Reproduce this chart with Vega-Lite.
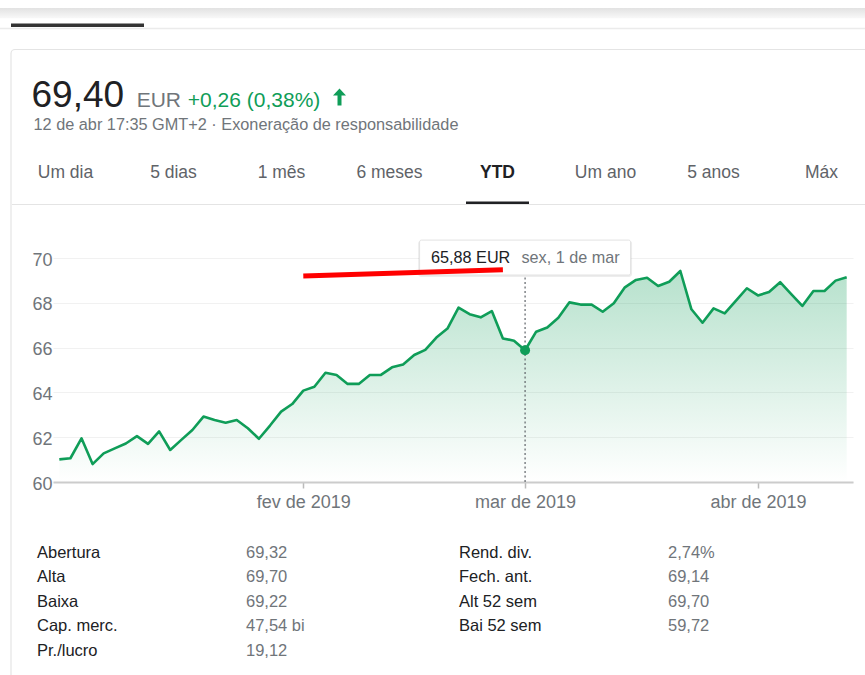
{
  "$schema": "https://vega.github.io/schema/vega-lite/v6.json",
  "width": 800,
  "height": 224,
  "autosize": {"type": "none"},
  "padding": {"left": 53, "top": 258, "right": 12, "bottom": 193},
  "background": "#ffffff",
  "config": {
    "font": "Liberation Sans",
    "view": {"stroke": null},
    "axis": {"labelFont": "Liberation Sans", "titleFont": "Liberation Sans"}
  },
  "datasets": {
    "cotacoes": [
      {"data": "2019-01-02", "preco": 61.01},
      {"data": "2019-01-03", "preco": 61.06},
      {"data": "2019-01-04", "preco": 61.95},
      {"data": "2019-01-07", "preco": 60.80},
      {"data": "2019-01-08", "preco": 61.28},
      {"data": "2019-01-09", "preco": 61.50},
      {"data": "2019-01-10", "preco": 61.72},
      {"data": "2019-01-11", "preco": 62.05},
      {"data": "2019-01-14", "preco": 61.70},
      {"data": "2019-01-15", "preco": 62.26},
      {"data": "2019-01-16", "preco": 61.43},
      {"data": "2019-01-17", "preco": 61.88},
      {"data": "2019-01-18", "preco": 62.32},
      {"data": "2019-01-21", "preco": 62.92},
      {"data": "2019-01-22", "preco": 62.77},
      {"data": "2019-01-23", "preco": 62.65},
      {"data": "2019-01-24", "preco": 62.77},
      {"data": "2019-01-25", "preco": 62.40},
      {"data": "2019-01-28", "preco": 61.93},
      {"data": "2019-01-29", "preco": 62.52},
      {"data": "2019-01-30", "preco": 63.14},
      {"data": "2019-01-31", "preco": 63.48},
      {"data": "2019-02-01", "preco": 64.08},
      {"data": "2019-02-04", "preco": 64.25},
      {"data": "2019-02-05", "preco": 64.88},
      {"data": "2019-02-06", "preco": 64.78},
      {"data": "2019-02-07", "preco": 64.38},
      {"data": "2019-02-08", "preco": 64.38},
      {"data": "2019-02-11", "preco": 64.78},
      {"data": "2019-02-12", "preco": 64.78},
      {"data": "2019-02-13", "preco": 65.12},
      {"data": "2019-02-14", "preco": 65.25},
      {"data": "2019-02-15", "preco": 65.67},
      {"data": "2019-02-18", "preco": 65.90},
      {"data": "2019-02-19", "preco": 66.45},
      {"data": "2019-02-20", "preco": 66.85},
      {"data": "2019-02-21", "preco": 67.78},
      {"data": "2019-02-22", "preco": 67.49},
      {"data": "2019-02-25", "preco": 67.35},
      {"data": "2019-02-26", "preco": 67.63},
      {"data": "2019-02-27", "preco": 66.41},
      {"data": "2019-02-28", "preco": 66.31},
      {"data": "2019-03-01", "preco": 65.88},
      {"data": "2019-03-04", "preco": 66.71},
      {"data": "2019-03-05", "preco": 66.90},
      {"data": "2019-03-06", "preco": 67.33},
      {"data": "2019-03-07", "preco": 68.02},
      {"data": "2019-03-08", "preco": 67.92},
      {"data": "2019-03-11", "preco": 67.92},
      {"data": "2019-03-12", "preco": 67.60},
      {"data": "2019-03-13", "preco": 67.98},
      {"data": "2019-03-14", "preco": 68.69},
      {"data": "2019-03-15", "preco": 69.02},
      {"data": "2019-03-18", "preco": 69.12},
      {"data": "2019-03-19", "preco": 68.75},
      {"data": "2019-03-20", "preco": 68.94},
      {"data": "2019-03-21", "preco": 69.42},
      {"data": "2019-03-22", "preco": 67.71},
      {"data": "2019-03-25", "preco": 67.11},
      {"data": "2019-03-26", "preco": 67.75},
      {"data": "2019-03-27", "preco": 67.53},
      {"data": "2019-03-28", "preco": 68.09},
      {"data": "2019-03-29", "preco": 68.65},
      {"data": "2019-04-01", "preco": 68.33},
      {"data": "2019-04-02", "preco": 68.48},
      {"data": "2019-04-03", "preco": 68.92},
      {"data": "2019-04-04", "preco": 68.39},
      {"data": "2019-04-05", "preco": 67.86},
      {"data": "2019-04-08", "preco": 68.53},
      {"data": "2019-04-09", "preco": 68.53},
      {"data": "2019-04-10", "preco": 68.99},
      {"data": "2019-04-11", "preco": 69.14}
    ],
    "destaque": [
      {"data": "2019-03-01", "preco": 65.88, "valor": "65,88 EUR", "dia": "sex, 1 de mar"}
    ],
    "cabecalho": [
      {"parte": "cotação", "texto": "69,40"},
      {"parte": "moeda", "texto": "EUR"},
      {"parte": "variação", "texto": "+0,26 (0,38%)"},
      {"parte": "seta", "texto": "subida"},
      {"parte": "atualização", "texto": "12 de abr 17:35 GMT+2 · Exoneração de responsabilidade"}
    ],
    "abas": [
      {"aba": "Um dia"}, {"aba": "5 dias"}, {"aba": "1 mês"}, {"aba": "6 meses"},
      {"aba": "YTD"}, {"aba": "Um ano"}, {"aba": "5 anos"}, {"aba": "Máx"}
    ],
    "estatisticas": [
      {"nome": "Abertura", "valor": "69,32"},
      {"nome": "Alta", "valor": "69,70"},
      {"nome": "Baixa", "valor": "69,22"},
      {"nome": "Cap. merc.", "valor": "47,54 bi"},
      {"nome": "Pr./lucro", "valor": "19,12"},
      {"nome": "Rend. div.", "valor": "2,74%"},
      {"nome": "Fech. ant.", "valor": "69,14"},
      {"nome": "Alt 52 sem", "valor": "69,70"},
      {"nome": "Bai 52 sem", "valor": "59,72"}
    ],
    "pagina": [
      {"elemento": "sombra"},
      {"elemento": "separador"},
      {"elemento": "aba ativa"},
      {"elemento": "cartão"}
    ]
  },
  "layer": [
    {
      "data": {"name": "pagina"},
      "encoding": {
        "x": {"datum": "esquerda", "type": "nominal", "scale": {"type": "point", "padding": 0, "domain": ["esquerda", "direita"], "range": [-53, 812]}, "axis": null},
        "x2": {"datum": "direita"},
        "y": {"datum": "sombra início", "type": "nominal", "scale": {"type": "point", "padding": 0, "domain": ["sombra início", "sombra fim", "linha"], "range": [-250, -229.5]}, "axis": null}
      },
      "layer": [
        {
          "transform": [{"filter": {"field": "elemento", "equal": "sombra"}}],
          "mark": {
            "type": "rect",
            "fill": {
              "gradient": "linear",
              "x1": 0, "y1": 0, "x2": 0, "y2": 1,
              "stops": [
                {"offset": 0, "color": "#e2e2e2"},
                {"offset": 1, "color": "#f8f8f8"}
              ]
            }
          },
          "encoding": {"y2": {"datum": "sombra fim"}}
        },
        {
          "transform": [{"filter": {"field": "elemento", "equal": "separador"}}],
          "mark": {"type": "rule", "color": "#ebebeb", "strokeWidth": 1.5},
          "encoding": {"y": {"datum": "linha", "type": "nominal"}}
        }
      ]
    },
    {
      "data": {"name": "pagina"},
      "transform": [{"filter": {"field": "elemento", "equal": "aba ativa"}}],
      "mark": {"type": "rect", "fill": "#333333"},
      "encoding": {
        "x": {"datum": "início", "type": "nominal", "scale": {"type": "point", "padding": 0, "domain": ["início", "fim"], "range": [-42, 91]}, "axis": null},
        "x2": {"datum": "fim"},
        "y": {"datum": "topo", "type": "nominal", "scale": {"type": "point", "padding": 0, "domain": ["topo", "base"], "range": [-234.5, -231]}, "axis": null},
        "y2": {"datum": "base"}
      }
    },
    {
      "data": {"name": "pagina"},
      "transform": [{"filter": {"field": "elemento", "equal": "cartão"}}],
      "mark": {"type": "rect", "fill": "transparent", "stroke": "#e4e4e4", "strokeWidth": 1.2, "cornerRadius": 4},
      "encoding": {
        "x": {"datum": "esquerda", "type": "nominal", "scale": {"type": "point", "padding": 0, "domain": ["esquerda", "direita"], "range": [-42, 830]}, "axis": null},
        "x2": {"datum": "direita"},
        "y": {"datum": "topo", "type": "nominal", "scale": {"type": "point", "padding": 0, "domain": ["topo", "base"], "range": [-208.5, 440]}, "axis": null},
        "y2": {"datum": "base"}
      }
    },
    {
      "encoding": {
        "x": {
          "field": "data",
          "type": "ordinal",
          "scale": {"type": "point", "padding": 0.57},
          "axis": {
            "values": ["2019-02-01", "2019-03-01", "2019-04-01"],
            "labelExpr": "datum.value == '2019-02-01' ? 'fev de 2019' : datum.value == '2019-03-01' ? 'mar de 2019' : 'abr de 2019'",
            "title": null,
            "grid": false,
            "labelAngle": 0,
            "labelAlign": "center",
            "labelBaseline": "top",
            "labelFontSize": 18,
            "labelColor": "#70757a",
            "labelPadding": 5,
            "domainColor": "#cccccc",
            "domainWidth": 2,
            "tickColor": "#bbbbbb",
            "tickSize": 6,
            "tickWidth": 1.5
          }
        },
        "y": {
          "field": "preco",
          "type": "quantitative",
          "scale": {"domain": [60, 70], "zero": false, "nice": false},
          "axis": {
            "values": [60, 62, 64, 66, 68, 70],
            "title": null,
            "grid": true,
            "gridColor": "#f1f1f1",
            "gridWidth": 1,
            "domain": false,
            "ticks": false,
            "tickSize": 0,
            "labelFontSize": 18,
            "labelColor": "#70757a",
            "labelPadding": 1,
            "labelOffset": 2
          }
        }
      },
      "layer": [
        {
          "data": {"name": "cotacoes"},
          "mark": {
            "type": "area",
            "color": {
              "gradient": "linear",
              "x1": 0, "y1": 0, "x2": 0, "y2": 1,
              "stops": [
                {"offset": 0, "color": "rgba(15,157,88,0.30)"},
                {"offset": 1, "color": "rgba(15,157,88,0)"}
              ]
            }
          },
          "encoding": {"y2": {"datum": 60}}
        },
        {
          "data": {"name": "cotacoes"},
          "mark": {"type": "line", "color": "#0f9d58", "strokeWidth": 2.6, "strokeJoin": "round"}
        },
        {
          "data": {"name": "destaque"},
          "mark": {"type": "rule", "color": "#5f6368", "strokeWidth": 1.2, "strokeDash": [2, 2.5]},
          "encoding": {"y": {"datum": 60}, "y2": {"datum": 69.18}}
        },
        {
          "data": {"name": "destaque"},
          "mark": {"type": "point", "filled": true, "opacity": 1, "color": "#0f9d58", "size": 100}
        },
        {
          "data": {"name": "destaque"},
          "mark": {"type": "bar", "width": 214, "color": "#000000", "opacity": 0.07, "cornerRadius": 3},
          "encoding": {"y": {"datum": 69.15}, "y2": {"datum": 70.78}}
        },
        {
          "data": {"name": "destaque"},
          "mark": {"type": "bar", "width": 211, "fill": "#ffffff", "stroke": "#e2e2e2", "strokeWidth": 1, "cornerRadius": 2},
          "encoding": {"y": {"datum": 69.24}, "y2": {"datum": 70.8}}
        },
        {
          "data": {"name": "destaque"},
          "mark": {"type": "text", "align": "left", "baseline": "middle", "dx": -94, "fontSize": 16.2, "color": "#202124"},
          "encoding": {"y": {"datum": 70}, "text": {"field": "valor"}}
        },
        {
          "data": {"name": "destaque"},
          "mark": {"type": "text", "align": "left", "baseline": "middle", "dx": -3.6, "fontSize": 16.2, "color": "#70757a"},
          "encoding": {"y": {"datum": 70}, "text": {"field": "dia"}}
        },
        {
          "data": {"name": "destaque"},
          "mark": {"type": "rule", "color": "#ff0000", "strokeWidth": 5, "strokeCap": "butt"},
          "encoding": {
            "x": {"datum": "2019-02-01", "type": "ordinal"},
            "x2": {"datum": "2019-02-27"},
            "y": {"datum": 69.2},
            "y2": {"datum": 69.47}
          }
        }
      ]
    },
    {
      "data": {"name": "cabecalho"},
      "encoding": {
        "x": {
          "field": "parte",
          "type": "nominal",
          "scale": {"type": "point", "padding": 0, "domain": ["cotação", "moeda", "variação", "seta"], "range": [-20, 286.5]},
          "axis": null
        },
        "y": {
          "datum": "cotação",
          "type": "nominal",
          "scale": {"type": "point", "padding": 0, "domain": ["cotação", "atualização"], "range": [-151.5, -128.5]},
          "axis": null
        }
      },
      "layer": [
        {
          "transform": [{"filter": {"field": "parte", "equal": "cotação"}}],
          "mark": {"type": "text", "align": "left", "baseline": "alphabetic", "fontSize": 37, "color": "#202124", "dx": -1.5},
          "encoding": {"text": {"field": "texto"}}
        },
        {
          "transform": [{"filter": {"field": "parte", "equal": "moeda"}}],
          "mark": {"type": "text", "align": "left", "baseline": "alphabetic", "fontSize": 21, "color": "#70757a", "dx": 1.5},
          "encoding": {"text": {"field": "texto"}}
        },
        {
          "transform": [{"filter": {"field": "parte", "equal": "variação"}}],
          "mark": {"type": "text", "align": "left", "baseline": "alphabetic", "fontSize": 21, "color": "#0f9d58", "dx": -49.5},
          "encoding": {"text": {"field": "texto"}}
        },
        {
          "transform": [{"filter": {"field": "parte", "equal": "seta"}}],
          "mark": {
            "type": "point",
            "filled": true,
            "opacity": 1,
            "color": "#0f9d58",
            "size": 289,
            "shape": "M0,-2.118L0.765,-1.3L0.235,-1.3L0.235,-0.118L-0.235,-0.118L-0.235,-1.3L-0.765,-1.3Z"
          }
        },
        {
          "transform": [{"filter": {"field": "parte", "equal": "atualização"}}],
          "mark": {"type": "text", "align": "left", "baseline": "alphabetic", "fontSize": 16.3, "color": "#70757a", "dx": 0.5},
          "encoding": {
            "x": {"datum": "cotação", "type": "nominal"},
            "y": {"datum": "atualização", "type": "nominal"},
            "text": {"field": "texto"}
          }
        }
      ]
    },
    {
      "data": {"name": "abas"},
      "mark": {"type": "text", "text": ""},
      "encoding": {
        "x": {
          "field": "aba",
          "type": "nominal",
          "sort": null,
          "scale": {
            "type": "band",
            "domain": ["Um dia", "5 dias", "1 mês", "6 meses", "YTD", "Um ano", "5 anos", "Máx"],
            "range": [-41.5, 822.5],
            "paddingInner": 0,
            "paddingOuter": 0
          },
          "axis": {
            "orient": "top",
            "offset": 54,
            "title": null,
            "domainColor": "#e4e4e4",
            "domainWidth": 1.2,
            "tickSize": 3,
            "tickWidth": 63,
            "tickCap": "butt",
            "tickColor": {"condition": {"test": "datum.value === 'YTD'", "value": "#202124"}, "value": "rgba(0,0,0,0)"},
            "labelAngle": 0,
            "labelAlign": "center",
            "labelBaseline": "bottom",
            "labelOverlap": false,
            "labelFontSize": 17.5,
            "labelPadding": 20,
            "labelColor": {"condition": {"test": "datum.value === 'YTD'", "value": "#202124"}, "value": "#5f6368"},
            "labelFontWeight": {"condition": {"test": "datum.value === 'YTD'", "value": "bold"}, "value": "normal"}
          }
        }
      }
    },
    {
      "data": {"name": "estatisticas"},
      "transform": [
        {"filter": {"field": "nome", "oneOf": ["Abertura", "Alta", "Baixa", "Cap. merc.", "Pr./lucro"]}},
        {"fold": ["nome", "valor"], "as": ["campo", "texto"]}
      ],
      "mark": {"type": "text", "align": "left", "baseline": "alphabetic", "fontSize": 16.5},
      "encoding": {
        "x": {"field": "campo", "type": "nominal", "scale": {"type": "point", "padding": 0, "domain": ["nome", "valor"], "range": [-16, 193]}, "axis": null},
        "y": {"field": "nome", "type": "nominal", "scale": {"type": "point", "padding": 0, "domain": ["Abertura", "Alta", "Baixa", "Cap. merc.", "Pr./lucro"], "range": [299.5, 397.9]}, "axis": null},
        "text": {"field": "texto"},
        "color": {"field": "campo", "type": "nominal", "scale": {"domain": ["nome", "valor"], "range": ["#202124", "#70757a"]}, "legend": null}
      }
    },
    {
      "data": {"name": "estatisticas"},
      "transform": [
        {"filter": {"field": "nome", "oneOf": ["Rend. div.", "Fech. ant.", "Alt 52 sem", "Bai 52 sem"]}},
        {"fold": ["nome", "valor"], "as": ["campo", "texto"]}
      ],
      "mark": {"type": "text", "align": "left", "baseline": "alphabetic", "fontSize": 16.5},
      "encoding": {
        "x": {"field": "campo", "type": "nominal", "scale": {"type": "point", "padding": 0, "domain": ["nome", "valor"], "range": [406, 615]}, "axis": null},
        "y": {"field": "nome", "type": "nominal", "scale": {"type": "point", "padding": 0, "domain": ["Rend. div.", "Fech. ant.", "Alt 52 sem", "Bai 52 sem"], "range": [299.5, 373.3]}, "axis": null},
        "text": {"field": "texto"},
        "color": {"field": "campo", "type": "nominal", "scale": {"domain": ["nome", "valor"], "range": ["#202124", "#70757a"]}, "legend": null}
      }
    }
  ],
  "resolve": {
    "scale": {"x": "independent", "y": "independent", "color": "independent"},
    "axis": {"x": "independent", "y": "independent"}
  }
}
